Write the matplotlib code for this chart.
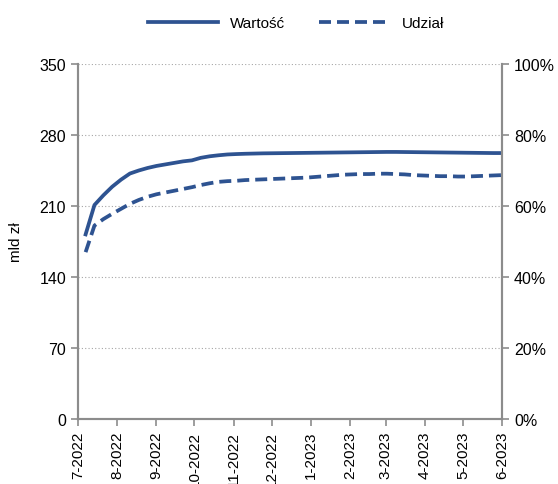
import matplotlib
matplotlib.use("Agg")
import matplotlib.pyplot as plt
import pandas as pd

plt.rcParams['font.family'] = ['Liberation Sans', 'DejaVu Sans']

# weekly observations
dates = pd.date_range('2022-07-07', periods=48, freq='7D')

wartosc = [182, 211, 220.5, 229, 236, 242, 245, 247.5, 249.5, 251,
           252.5, 254, 255, 257.5, 259, 260, 260.8, 261.2, 261.5, 261.7,
           261.9, 262, 262.1, 262.2, 262.3, 262.4, 262.5, 262.6, 262.7, 262.8,
           262.9, 263, 263.1, 263.2, 263.3, 263.3, 263.2, 263.1, 263, 262.9,
           262.8, 262.7, 262.6, 262.5, 262.4, 262.3, 262.2, 262.2]

udzial = [47, 54.5, 56.3, 57.8, 59.2, 60.6, 61.7, 62.6, 63.3, 63.8,
          64.3, 64.8, 65.3, 65.9, 66.4, 66.8, 67.0, 67.1, 67.3, 67.4,
          67.5, 67.6, 67.7, 67.8, 67.9, 68.0, 68.2, 68.4, 68.6, 68.8,
          68.9, 69.0, 69.0, 69.1, 69.1, 69.0, 68.9, 68.7, 68.6, 68.5,
          68.4, 68.4, 68.3, 68.3, 68.4, 68.5, 68.6, 68.7]

month_ticks = pd.date_range('2022-07-01', '2023-06-01', freq='MS')
month_labels = [f'{d.month}-{d.year}' for d in month_ticks]

left_ticks = [0, 70, 140, 210, 280, 350]
right_ticks = [0, 20, 40, 60, 80, 100]

blue = '#2E5391'
gray = '#8C8C8C'

fig = plt.figure(figsize=(5.58, 4.85), dpi=100)
ax = fig.add_axes([0.1398, 0.134, 0.76, 0.732])
ax2 = ax.twinx()

l1, = ax.plot(dates, wartosc, '-', color=blue, lw=2.7, label='Wartość')
l2, = ax2.plot(dates, udzial, color=blue, lw=2.7,
               dashes=(3.2, 1.6), label='Udział')

ax.set_ylim(0, 350)
ax.set_yticks(left_ticks)
ax2.set_ylim(0, 100)
ax2.set_yticks(right_ticks)
ax2.set_yticklabels([f'{t}%' for t in right_ticks])

ax.set_xlim(month_ticks[0], month_ticks[-1])
ax.set_xticks(month_ticks)
ax.set_xticklabels(month_labels, rotation=90)

ax.yaxis.grid(True, linestyle=(0, (1, 2)), color='#A6A6A6', lw=0.8)
ax.set_ylabel('mld zł', fontsize=11, labelpad=12)

for a in (ax, ax2):
    a.spines['top'].set_visible(False)
    for s in ('left', 'right', 'bottom'):
        a.spines[s].set_color(gray)
        a.spines[s].set_linewidth(1.5)
    a.tick_params(colors=gray, labelcolor='black', labelsize=11.5,
                  length=5, width=1.2)
ax.tick_params(axis='x', labelsize=11)

ax.legend(handles=[l1, l2], loc='center', bbox_to_anchor=(0.53, 0.95),
          bbox_transform=fig.transFigure, ncol=2, frameon=False,
          fontsize=11, handlelength=4.6, columnspacing=2.2, handletextpad=0.8)

fig.savefig('out.png', dpi=100)
